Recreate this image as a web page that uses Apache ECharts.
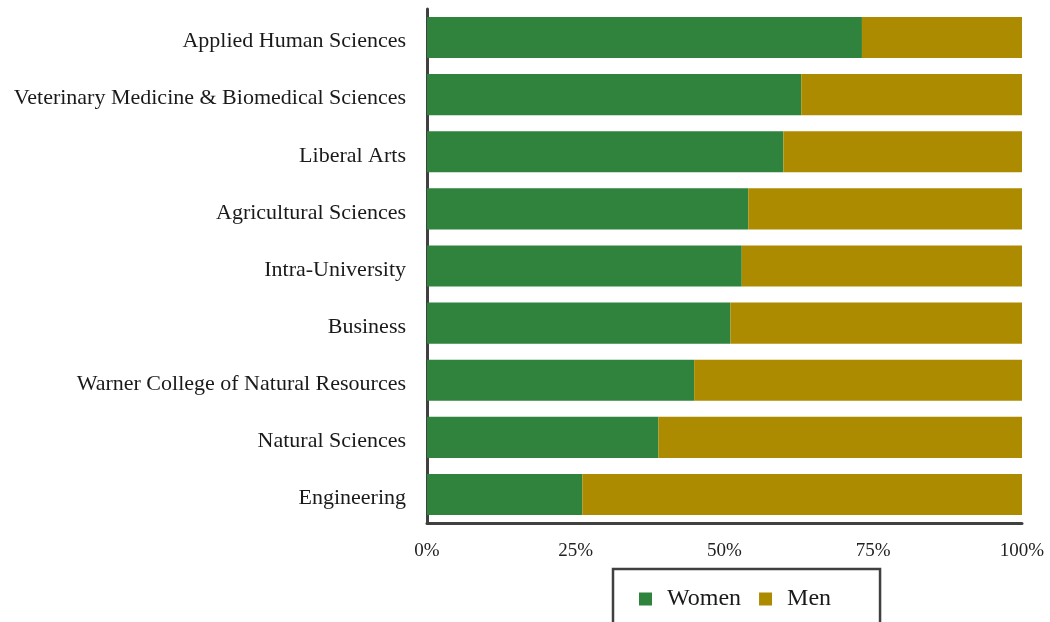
<!DOCTYPE html>
<html>
<head>
<meta charset="utf-8">
<script src="https://cdn.jsdelivr.net/npm/echarts@6/dist/echarts.min.js"></script>
<style>
html,body{margin:0;padding:0;background:#fff;}
#chart{width:1050px;height:622px;}
</style>
</head>
<body>
<div id="chart"></div>
<script>
var categories = [
  "Applied Human Sciences",
  "Veterinary Medicine & Biomedical Sciences",
  "Liberal Arts",
  "Agricultural Sciences",
  "Intra-University",
  "Business",
  "Warner College of Natural Resources",
  "Natural Sciences",
  "Engineering"
];
var women = [73.1, 62.9, 59.9, 54.0, 52.9, 51.0, 44.9, 38.9, 26.1];
var men   = [26.9, 37.1, 40.1, 46.0, 47.1, 49.0, 55.1, 61.1, 73.9];
var xTicks = [0, 25, 50, 75, 100];

var FONT = "Liberation Serif";
var chart = echarts.init(document.getElementById('chart'));
chart.setOption({
  animation: false,
  textStyle: { fontFamily: FONT },
  grid: { left: 427, right: 28, top: 9, bottom: 99, containLabel: false },
  xAxis: {
    type: 'value', min: 0, max: 100, interval: 25,
    axisLine: { show: true, lineStyle: { color: '#404040', width: 3 } },
    axisTick: { show: false },
    splitLine: { show: false },
    axisLabel: {
      color: '#222', fontSize: 19, fontFamily: FONT, margin: 19,
      formatter: function (v) { return xTicks.indexOf(v) >= 0 ? v + '%' : ''; }
    }
  },
  yAxis: {
    type: 'category', data: categories, inverse: true,
    axisLine: { show: true, lineStyle: { color: '#404040', width: 3 } },
    axisTick: { show: false },
    axisLabel: {
      margin: 21,
      formatter: function (v) { return '{a|' + v + '}'; },
      rich: { a: { color: '#1a1a1a', fontSize: 22, fontFamily: FONT, padding: [8, 0, 0, 0] } }
    }
  },
  legend: {
    left: 613, top: 569,
    padding: [18, 49, 30, 26],
    borderColor: '#404040', borderWidth: 2.5,
    icon: 'rect',
    itemWidth: 13, itemHeight: 13, itemGap: 18,
    textStyle: { color: '#1a1a1a', fontSize: 24, fontFamily: FONT, padding: [0, 0, 0, 10] },
    data: ['Women', 'Men']
  },
  series: [
    { name: 'Women', type: 'bar', stack: 't', data: women, barCategoryGap: '28%',
      itemStyle: { color: '#2f833c' } },
    { name: 'Men', type: 'bar', stack: 't', data: men,
      itemStyle: { color: '#ad8b00' } }
  ]
});
</script>
</body>
</html>
